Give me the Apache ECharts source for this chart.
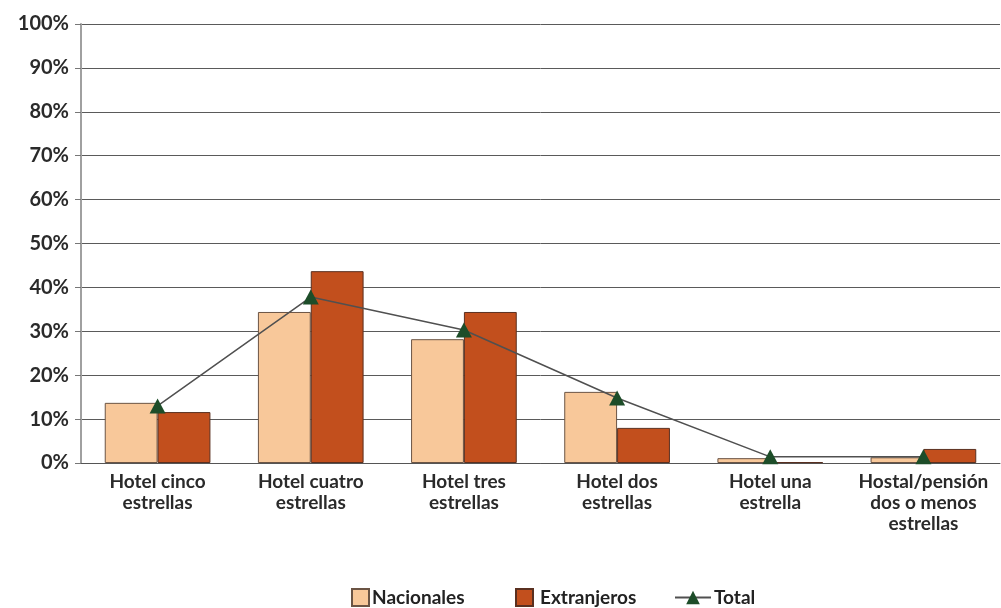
<!DOCTYPE html>
<html>
<head>
<meta charset="utf-8">
<script src="https://cdn.jsdelivr.net/npm/echarts@6/dist/echarts.min.js"></script>
<style>
  html, body { margin: 0; padding: 0; background: #fff; }
  #chart { width: 1001px; height: 608px; }
</style>
</head>
<body>
<div id="chart"></div>
<script>
// Categorías de alojamiento
var categories = [
  'Hotel cinco\nestrellas',
  'Hotel cuatro\nestrellas',
  'Hotel tres\nestrellas',
  'Hotel dos\nestrellas',
  'Hotel una\nestrella',
  'Hostal/pensión\ndos o menos\nestrellas'
];

// Porcentajes por tipo de visitante
var nacionales  = [13.7, 34.4, 28.2, 16.2, 1.1, 1.3];
var extranjeros = [11.6, 43.7, 34.4, 8.0, 0.2, 3.2];
var total       = [13.0, 37.8, 30.3, 14.8, 1.4, 1.4];

var yTicks = { min: 0, max: 100, interval: 10 };

var FONT = 'Lato, "Open Sans", sans-serif';
var legendText = { fontFamily: FONT, fontSize: 19, fontWeight: 'bold', color: '#222', lineHeight: 19 };

var chart = echarts.init(document.getElementById('chart'));

chart.setOption({
  animation: false,
  backgroundColor: '#ffffff',
  textStyle: { fontFamily: FONT },
  grid: { left: 81, right: 1, top: 24, bottom: 145, containLabel: false },
  legend: [
    {
      data: [{ name: 'Nacionales', icon: 'rect' }],
      left: 346,
      top: 583,
      itemWidth: 17,
      itemHeight: 17,
      textStyle: Object.assign({ padding: [0, 0, 0, -2] }, legendText)
    },
    {
      data: [{ name: 'Extranjeros', icon: 'rect' }],
      left: 510,
      top: 583,
      itemWidth: 17,
      itemHeight: 17,
      textStyle: Object.assign({ padding: [0, 0, 0, 2] }, legendText)
    },
    {
      data: ['Total'],
      left: 669,
      top: 583,
      itemWidth: 36,
      itemHeight: 17,
      textStyle: Object.assign({ padding: [0, 0, 0, -2] }, legendText)
    }
  ],
  xAxis: {
    type: 'category',
    data: categories,
    axisLine: { show: true, lineStyle: { color: '#555', width: 1 } },
    axisTick: { show: false },
    axisLabel: {
      interval: 0,
      margin: 8,
      fontFamily: FONT,
      fontSize: 19,
      fontWeight: 'bold',
      color: '#2a2a2a',
      lineHeight: 21
    }
  },
  yAxis: {
    type: 'value',
    min: yTicks.min,
    max: yTicks.max,
    interval: yTicks.interval,
    axisLine: { show: true, lineStyle: { color: '#a0a0a0', width: 2 } },
    axisTick: { show: true, length: 6, lineStyle: { color: '#777', width: 1 } },
    axisLabel: {
      margin: 12,
      fontFamily: FONT,
      fontSize: 20,
      fontWeight: 'bold',
      color: '#2a2a2a',
      formatter: '{value}%'
    },
    splitLine: { show: true, lineStyle: { color: '#5a5a5a', width: 1 } }
  },
  series: [
    {
      name: 'Nacionales',
      type: 'bar',
      data: nacionales,
      barGap: '0%',
      barCategoryGap: '31%',
      itemStyle: { color: '#f8c89a', borderColor: '#6b5444', borderWidth: 1 }
    },
    {
      name: 'Extranjeros',
      type: 'bar',
      data: extranjeros,
      itemStyle: { color: '#c24f1d', borderColor: '#5a3020', borderWidth: 1 }
    },
    {
      name: 'Total',
      type: 'line',
      data: total,
      z: 5,
      symbol: 'triangle',
      symbolSize: [16, 15],
      itemStyle: { color: '#1d4d29' },
      lineStyle: { color: '#505050', width: 1.5 }
    }
  ]
});
</script>
</body>
</html>
